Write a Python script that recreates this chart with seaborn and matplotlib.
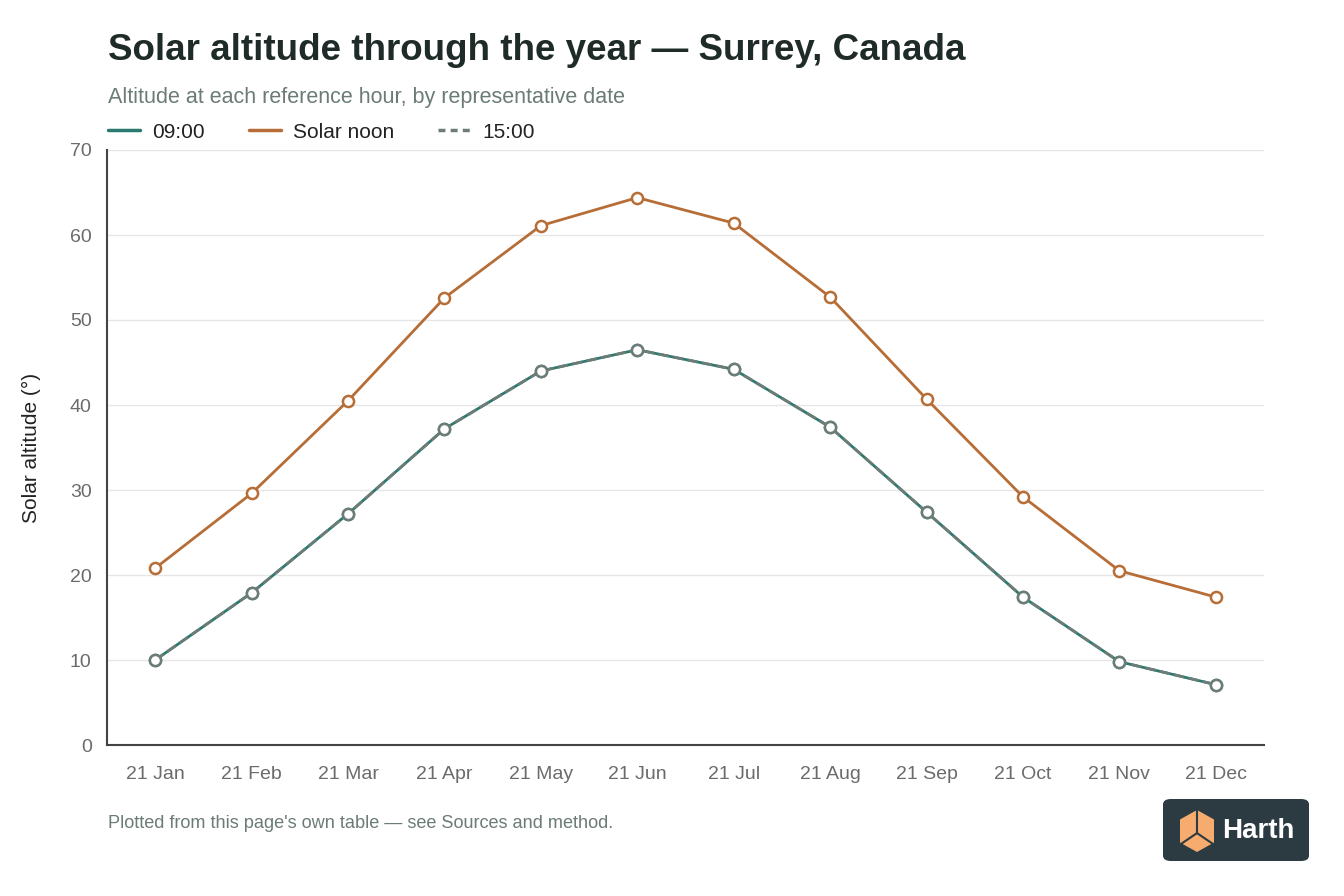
import numpy as np
import pandas as pd
import seaborn as sns
import matplotlib
matplotlib.use("Agg")
import matplotlib.pyplot as plt
from matplotlib.lines import Line2D
from matplotlib.patches import FancyBboxPatch, Polygon

dates = ["21 Jan", "21 Feb", "21 Mar", "21 Apr", "21 May", "21 Jun",
         "21 Jul", "21 Aug", "21 Sep", "21 Oct", "21 Nov", "21 Dec"]
alt_0900 = [10.0, 17.9, 27.2, 37.2, 44.0, 46.5, 44.2, 37.4, 27.4, 17.4, 9.8, 7.1]
alt_noon = [20.8, 29.6, 40.5, 52.6, 61.1, 64.4, 61.4, 52.7, 40.7, 29.2, 20.5, 17.4]
alt_1500 = [10.0, 17.9, 27.2, 37.2, 44.0, 46.5, 44.2, 37.4, 27.4, 17.4, 9.8, 7.1]
series_names = ["09:00", "Solar noon", "15:00"]
y_ticks = [0, 10, 20, 30, 40, 50, 60, 70]

colors = {"09:00": "#2b7a70", "Solar noon": "#b66d36", "15:00": "#6d7c77"}

df = pd.DataFrame({
    "date": dates * 3,
    "x": list(range(len(dates))) * 3,
    "alt": alt_0900 + alt_noon + alt_1500,
    "series": [series_names[0]] * 12 + [series_names[1]] * 12 + [series_names[2]] * 12,
})

sns.set_theme(style="white")
plt.rcParams["font.family"] = ["Liberation Sans", "DejaVu Sans"]

fig = plt.figure(figsize=(13.44, 8.96), dpi=100)
ax = fig.add_axes([107/1344, 1-745/896, (1264-107)/1344, (745-150)/896])

for name in series_names:
    sub = df[df["series"] == name]
    sns.lineplot(data=sub, x="x", y="alt", ax=ax, color=colors[name],
                 linewidth=2.0, marker="o", markersize=8,
                 markerfacecolor="white", markeredgecolor=colors[name],
                 markeredgewidth=1.8,
                 linestyle="--" if name == "15:00" else "-",
                 dashes=(3, 1.5) if name == "15:00" else (None, None),
                 legend=False, zorder=3, estimator=None)

ax.set_xlim(-0.5, len(dates) - 0.5)
ax.set_ylim(0, 70)
ax.set_yticks(y_ticks)
ax.set_xticks(range(len(dates)))
ax.set_xticklabels(dates)
ax.grid(axis="y", color="#e6e6e6", linewidth=1)
ax.set_axisbelow(True)
for s in ["top", "right"]:
    ax.spines[s].set_visible(False)
for s in ["left", "bottom"]:
    ax.spines[s].set_color("#444444")
    ax.spines[s].set_linewidth(1.5)
ax.tick_params(axis="both", colors="#6b6b6b", labelsize=14, length=0)
ax.tick_params(axis="y", pad=11)
ax.tick_params(axis="x", pad=15)
ax.set_xlabel("")
ax.set_ylabel("Solar altitude (°)", fontsize=15, color="#222222", labelpad=21)

fig.text(108/1344, 1-51/896, "Solar altitude through the year — Surrey, Canada",
         fontsize=26.5, fontweight="bold", color="#1f2b28", va="center", ha="left")
fig.text(108/1344, 1-97/896, "Altitude at each reference hour, by representative date",
         fontsize=15.5, color="#6b7b76", va="center", ha="left")
fig.text(108/1344, 1-823/896, "Plotted from this page's own table — see Sources and method.",
         fontsize=13.1, color="#6b7b76", va="center", ha="left")

handles = [Line2D([0], [0], color=colors["09:00"], lw=2.5),
           Line2D([0], [0], color=colors["Solar noon"], lw=2.5),
           Line2D([0], [0], color=colors["15:00"], lw=2.5, ls=(0, (2, 1.5)))]
fig.legend(handles, series_names, loc="center left",
           bbox_to_anchor=(108/1344, 1-132/896), ncol=3, frameon=False,
           fontsize=15, handlelength=1.55, handletextpad=0.58, columnspacing=2.1,
           borderpad=0, borderaxespad=0, labelcolor="#222222")

# logo
box = FancyBboxPatch((1163/1344, 1-861/896), 146/1344, 62/896,
                     boxstyle="round,pad=0,rounding_size=0.006",
                     transform=fig.transFigure, facecolor="#2c3a41",
                     edgecolor="none")
fig.patches.append(box)
cx, cy = 1197/1344, 1-831/896
w, h = 17/1344, 21/896
cube = Polygon([(cx - w, cy + h*0.55), (cx, cy + h), (cx + w, cy + h*0.55),
                (cx + w, cy - h*0.55), (cx, cy - h), (cx - w, cy - h*0.55)],
               closed=True, transform=fig.transFigure, facecolor="#f6ab6f",
               edgecolor="none")
fig.patches.append(cube)
for (x0, y0), (x1, y1) in [((cx, cy + h), (cx, cy - h*0.1)),
                           ((cx, cy - h*0.1), (cx - w, cy - h*0.65)),
                           ((cx, cy - h*0.1), (cx + w, cy - h*0.65))]:
    fig.lines.append(Line2D([x0, x1], [y0, y1], transform=fig.transFigure,
                            color="#2c3a41", lw=1.5))
fig.text(1258/1344, 1-831/896, "Harth", fontsize=20, fontweight="bold",
         color="white", ha="center", va="center")

fig.savefig("out.png", dpi=100, facecolor="white")
